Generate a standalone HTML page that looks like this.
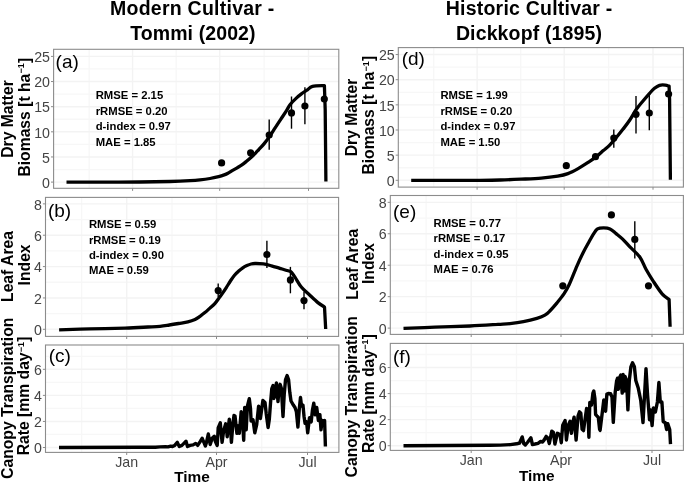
<!DOCTYPE html>
<html><head><meta charset="utf-8"><title>Figure</title><style>
html,body{margin:0;padding:0;background:#fff;}
svg{display:block;will-change:transform;}
text{font-family:"Liberation Sans",sans-serif;}
.tl{font-size:14.2px;fill:#444444;}
.pl{font-size:19px;fill:#000;}
.st{font-size:11.3px;font-weight:bold;fill:#000;}
.tt{font-size:19.5px;font-weight:bold;fill:#000;}
.yt{font-size:15.7px;font-weight:bold;fill:#000;}
.xt{font-size:15.4px;font-weight:bold;fill:#000;}
</style></head>
<body><svg width="685" height="484" viewBox="0 0 685 484">
<rect width="685" height="484" fill="#fff"/>
<line x1="53.6" y1="169.53" x2="338.8" y2="169.53" stroke="#f7f7f7" stroke-width="1.3"/>
<line x1="53.6" y1="144.39" x2="338.8" y2="144.39" stroke="#f7f7f7" stroke-width="1.3"/>
<line x1="53.6" y1="119.25" x2="338.8" y2="119.25" stroke="#f7f7f7" stroke-width="1.3"/>
<line x1="53.6" y1="94.11" x2="338.8" y2="94.11" stroke="#f7f7f7" stroke-width="1.3"/>
<line x1="53.6" y1="68.97" x2="338.8" y2="68.97" stroke="#f7f7f7" stroke-width="1.3"/>
<line x1="89.2" y1="49.3" x2="89.2" y2="188.3" stroke="#f7f7f7" stroke-width="1.3"/>
<line x1="176.2" y1="49.3" x2="176.2" y2="188.3" stroke="#f7f7f7" stroke-width="1.3"/>
<line x1="264.1" y1="49.3" x2="264.1" y2="188.3" stroke="#f7f7f7" stroke-width="1.3"/>
<line x1="53.6" y1="182.1" x2="338.8" y2="182.1" stroke="#f3f3f3" stroke-width="1.4"/>
<line x1="53.6" y1="156.96" x2="338.8" y2="156.96" stroke="#f3f3f3" stroke-width="1.4"/>
<line x1="53.6" y1="131.82" x2="338.8" y2="131.82" stroke="#f3f3f3" stroke-width="1.4"/>
<line x1="53.6" y1="106.68" x2="338.8" y2="106.68" stroke="#f3f3f3" stroke-width="1.4"/>
<line x1="53.6" y1="81.54" x2="338.8" y2="81.54" stroke="#f3f3f3" stroke-width="1.4"/>
<line x1="53.6" y1="56.4" x2="338.8" y2="56.4" stroke="#f3f3f3" stroke-width="1.4"/>
<line x1="132.6" y1="49.3" x2="132.6" y2="188.3" stroke="#f3f3f3" stroke-width="1.4"/>
<line x1="219.7" y1="49.3" x2="219.7" y2="188.3" stroke="#f3f3f3" stroke-width="1.4"/>
<line x1="308.5" y1="49.3" x2="308.5" y2="188.3" stroke="#f3f3f3" stroke-width="1.4"/>
<line x1="45.5" y1="313.62" x2="338.6" y2="313.62" stroke="#f7f7f7" stroke-width="1.3"/>
<line x1="45.5" y1="282.26" x2="338.6" y2="282.26" stroke="#f7f7f7" stroke-width="1.3"/>
<line x1="45.5" y1="250.9" x2="338.6" y2="250.9" stroke="#f7f7f7" stroke-width="1.3"/>
<line x1="45.5" y1="219.54" x2="338.6" y2="219.54" stroke="#f7f7f7" stroke-width="1.3"/>
<line x1="81.6" y1="197.4" x2="81.6" y2="336.4" stroke="#f7f7f7" stroke-width="1.3"/>
<line x1="172" y1="197.4" x2="172" y2="336.4" stroke="#f7f7f7" stroke-width="1.3"/>
<line x1="261.7" y1="197.4" x2="261.7" y2="336.4" stroke="#f7f7f7" stroke-width="1.3"/>
<line x1="45.5" y1="329.3" x2="338.6" y2="329.3" stroke="#f3f3f3" stroke-width="1.4"/>
<line x1="45.5" y1="297.94" x2="338.6" y2="297.94" stroke="#f3f3f3" stroke-width="1.4"/>
<line x1="45.5" y1="266.58" x2="338.6" y2="266.58" stroke="#f3f3f3" stroke-width="1.4"/>
<line x1="45.5" y1="235.22" x2="338.6" y2="235.22" stroke="#f3f3f3" stroke-width="1.4"/>
<line x1="45.5" y1="203.86" x2="338.6" y2="203.86" stroke="#f3f3f3" stroke-width="1.4"/>
<line x1="126.7" y1="197.4" x2="126.7" y2="336.4" stroke="#f3f3f3" stroke-width="1.4"/>
<line x1="216.5" y1="197.4" x2="216.5" y2="336.4" stroke="#f3f3f3" stroke-width="1.4"/>
<line x1="307.5" y1="197.4" x2="307.5" y2="336.4" stroke="#f3f3f3" stroke-width="1.4"/>
<line x1="45.5" y1="434.47" x2="338.9" y2="434.47" stroke="#f7f7f7" stroke-width="1.3"/>
<line x1="45.5" y1="408.41" x2="338.9" y2="408.41" stroke="#f7f7f7" stroke-width="1.3"/>
<line x1="45.5" y1="382.35" x2="338.9" y2="382.35" stroke="#f7f7f7" stroke-width="1.3"/>
<line x1="45.5" y1="356.29" x2="338.9" y2="356.29" stroke="#f7f7f7" stroke-width="1.3"/>
<line x1="81.6" y1="345" x2="81.6" y2="452.4" stroke="#f7f7f7" stroke-width="1.3"/>
<line x1="172" y1="345" x2="172" y2="452.4" stroke="#f7f7f7" stroke-width="1.3"/>
<line x1="261.7" y1="345" x2="261.7" y2="452.4" stroke="#f7f7f7" stroke-width="1.3"/>
<line x1="45.5" y1="447.5" x2="338.9" y2="447.5" stroke="#f3f3f3" stroke-width="1.4"/>
<line x1="45.5" y1="421.44" x2="338.9" y2="421.44" stroke="#f3f3f3" stroke-width="1.4"/>
<line x1="45.5" y1="395.38" x2="338.9" y2="395.38" stroke="#f3f3f3" stroke-width="1.4"/>
<line x1="45.5" y1="369.32" x2="338.9" y2="369.32" stroke="#f3f3f3" stroke-width="1.4"/>
<line x1="126.7" y1="345" x2="126.7" y2="452.4" stroke="#f3f3f3" stroke-width="1.4"/>
<line x1="216.5" y1="345" x2="216.5" y2="452.4" stroke="#f3f3f3" stroke-width="1.4"/>
<line x1="307.5" y1="345" x2="307.5" y2="452.4" stroke="#f3f3f3" stroke-width="1.4"/>
<line x1="398.3" y1="167.73" x2="683.4" y2="167.73" stroke="#f7f7f7" stroke-width="1.3"/>
<line x1="398.3" y1="142.58" x2="683.4" y2="142.58" stroke="#f7f7f7" stroke-width="1.3"/>
<line x1="398.3" y1="117.43" x2="683.4" y2="117.43" stroke="#f7f7f7" stroke-width="1.3"/>
<line x1="398.3" y1="92.28" x2="683.4" y2="92.28" stroke="#f7f7f7" stroke-width="1.3"/>
<line x1="398.3" y1="67.12" x2="683.4" y2="67.12" stroke="#f7f7f7" stroke-width="1.3"/>
<line x1="433.7" y1="47.6" x2="433.7" y2="187.1" stroke="#f7f7f7" stroke-width="1.3"/>
<line x1="520.7" y1="47.6" x2="520.7" y2="187.1" stroke="#f7f7f7" stroke-width="1.3"/>
<line x1="608.6" y1="47.6" x2="608.6" y2="187.1" stroke="#f7f7f7" stroke-width="1.3"/>
<line x1="398.3" y1="180.3" x2="683.4" y2="180.3" stroke="#f3f3f3" stroke-width="1.4"/>
<line x1="398.3" y1="155.15" x2="683.4" y2="155.15" stroke="#f3f3f3" stroke-width="1.4"/>
<line x1="398.3" y1="130" x2="683.4" y2="130" stroke="#f3f3f3" stroke-width="1.4"/>
<line x1="398.3" y1="104.85" x2="683.4" y2="104.85" stroke="#f3f3f3" stroke-width="1.4"/>
<line x1="398.3" y1="79.7" x2="683.4" y2="79.7" stroke="#f3f3f3" stroke-width="1.4"/>
<line x1="398.3" y1="54.55" x2="683.4" y2="54.55" stroke="#f3f3f3" stroke-width="1.4"/>
<line x1="477.1" y1="47.6" x2="477.1" y2="187.1" stroke="#f3f3f3" stroke-width="1.4"/>
<line x1="564.2" y1="47.6" x2="564.2" y2="187.1" stroke="#f3f3f3" stroke-width="1.4"/>
<line x1="653" y1="47.6" x2="653" y2="187.1" stroke="#f3f3f3" stroke-width="1.4"/>
<line x1="390.3" y1="312.38" x2="683.4" y2="312.38" stroke="#f7f7f7" stroke-width="1.3"/>
<line x1="390.3" y1="280.94" x2="683.4" y2="280.94" stroke="#f7f7f7" stroke-width="1.3"/>
<line x1="390.3" y1="249.5" x2="683.4" y2="249.5" stroke="#f7f7f7" stroke-width="1.3"/>
<line x1="390.3" y1="218.06" x2="683.4" y2="218.06" stroke="#f7f7f7" stroke-width="1.3"/>
<line x1="426.1" y1="195.5" x2="426.1" y2="334.4" stroke="#f7f7f7" stroke-width="1.3"/>
<line x1="516.5" y1="195.5" x2="516.5" y2="334.4" stroke="#f7f7f7" stroke-width="1.3"/>
<line x1="606.2" y1="195.5" x2="606.2" y2="334.4" stroke="#f7f7f7" stroke-width="1.3"/>
<line x1="390.3" y1="328.1" x2="683.4" y2="328.1" stroke="#f3f3f3" stroke-width="1.4"/>
<line x1="390.3" y1="296.66" x2="683.4" y2="296.66" stroke="#f3f3f3" stroke-width="1.4"/>
<line x1="390.3" y1="265.22" x2="683.4" y2="265.22" stroke="#f3f3f3" stroke-width="1.4"/>
<line x1="390.3" y1="233.78" x2="683.4" y2="233.78" stroke="#f3f3f3" stroke-width="1.4"/>
<line x1="390.3" y1="202.34" x2="683.4" y2="202.34" stroke="#f3f3f3" stroke-width="1.4"/>
<line x1="471.2" y1="195.5" x2="471.2" y2="334.4" stroke="#f3f3f3" stroke-width="1.4"/>
<line x1="561" y1="195.5" x2="561" y2="334.4" stroke="#f3f3f3" stroke-width="1.4"/>
<line x1="652" y1="195.5" x2="652" y2="334.4" stroke="#f3f3f3" stroke-width="1.4"/>
<line x1="390.3" y1="432.67" x2="683.4" y2="432.67" stroke="#f7f7f7" stroke-width="1.3"/>
<line x1="390.3" y1="406.61" x2="683.4" y2="406.61" stroke="#f7f7f7" stroke-width="1.3"/>
<line x1="390.3" y1="380.55" x2="683.4" y2="380.55" stroke="#f7f7f7" stroke-width="1.3"/>
<line x1="390.3" y1="354.49" x2="683.4" y2="354.49" stroke="#f7f7f7" stroke-width="1.3"/>
<line x1="426.1" y1="343.4" x2="426.1" y2="450.4" stroke="#f7f7f7" stroke-width="1.3"/>
<line x1="516.5" y1="343.4" x2="516.5" y2="450.4" stroke="#f7f7f7" stroke-width="1.3"/>
<line x1="606.2" y1="343.4" x2="606.2" y2="450.4" stroke="#f7f7f7" stroke-width="1.3"/>
<line x1="390.3" y1="445.7" x2="683.4" y2="445.7" stroke="#f3f3f3" stroke-width="1.4"/>
<line x1="390.3" y1="419.64" x2="683.4" y2="419.64" stroke="#f3f3f3" stroke-width="1.4"/>
<line x1="390.3" y1="393.58" x2="683.4" y2="393.58" stroke="#f3f3f3" stroke-width="1.4"/>
<line x1="390.3" y1="367.52" x2="683.4" y2="367.52" stroke="#f3f3f3" stroke-width="1.4"/>
<line x1="471.2" y1="343.4" x2="471.2" y2="450.4" stroke="#f3f3f3" stroke-width="1.4"/>
<line x1="561" y1="343.4" x2="561" y2="450.4" stroke="#f3f3f3" stroke-width="1.4"/>
<line x1="652" y1="343.4" x2="652" y2="450.4" stroke="#f3f3f3" stroke-width="1.4"/>
<path d="M66.5,182.2 C72.08,182.18 87.75,182.13 100,182.1 C112.25,182.07 128.33,182.1 140,182 C151.67,181.9 161.67,181.72 170,181.5 C178.33,181.28 185,180.97 190,180.7 C195,180.43 196.67,180.27 200,179.9 C203.33,179.53 206.9,179.05 210,178.5 C213.1,177.95 216.23,177.2 218.6,176.6 C220.97,176 222.65,175.45 224.2,174.9 C225.75,174.35 226.5,174.05 227.9,173.3 C229.3,172.55 231.05,171.32 232.6,170.4 C234.15,169.48 235.65,168.72 237.2,167.8 C238.75,166.88 240.35,165.98 241.9,164.9 C243.45,163.82 244.95,162.57 246.5,161.3 C248.05,160.03 249.65,158.72 251.2,157.3 C252.75,155.88 254.57,154.05 255.8,152.8 C257.03,151.55 257.2,151.33 258.6,149.8 C260,148.27 262.33,145.88 264.2,143.6 C266.07,141.32 267.95,138.77 269.8,136.1 C271.65,133.43 273.45,130.43 275.3,127.6 C277.15,124.77 279.03,121.93 280.9,119.1 C282.77,116.27 284.95,113.05 286.5,110.6 C288.05,108.15 288.65,106.4 290.2,104.4 C291.75,102.4 293.93,100.35 295.8,98.6 C297.67,96.85 299.55,95.3 301.4,93.9 C303.25,92.5 305.05,91.45 306.9,90.2 C308.75,88.95 309.58,87.17 312.5,86.4 C315.42,85.63 322.42,85.73 324.4,85.6 L325.2,110 L325.9,181.5" fill="none" stroke="#000" stroke-width="3.3" stroke-linejoin="round" stroke-linecap="butt"/>
<circle cx="221.6" cy="162.9" r="3.6" fill="#000"/>
<circle cx="250.6" cy="152.8" r="3.6" fill="#000"/>
<line x1="269.2" y1="119.6" x2="269.2" y2="149.7" stroke="#000" stroke-width="1.4"/>
<circle cx="269.2" cy="135" r="3.6" fill="#000"/>
<line x1="291.5" y1="96.5" x2="291.5" y2="128.7" stroke="#000" stroke-width="1.4"/>
<circle cx="291.5" cy="112.9" r="3.6" fill="#000"/>
<line x1="304.9" y1="87.3" x2="304.9" y2="124.3" stroke="#000" stroke-width="1.4"/>
<circle cx="304.9" cy="106" r="3.6" fill="#000"/>
<circle cx="324.3" cy="99" r="3.6" fill="#000"/>
<path d="M59.1,329.8 C64.25,329.65 79.02,329.18 90,328.9 C100.98,328.62 115.33,328.42 125,328.1 C134.67,327.78 142.17,327.3 148,327 C153.83,326.7 156.45,326.63 160,326.3 C163.55,325.97 166.2,325.47 169.3,325 C172.4,324.53 175.5,324.02 178.6,323.5 C181.7,322.98 185.17,322.57 187.9,321.9 C190.63,321.23 192.98,320.43 195,319.5 C197.02,318.57 198.35,317.45 200,316.3 C201.65,315.15 203.25,313.97 204.9,312.6 C206.55,311.23 208.25,309.6 209.9,308.1 C211.55,306.6 213.28,305.28 214.8,303.6 C216.32,301.92 217.78,299.63 219,298 C220.22,296.37 220.88,295.53 222.1,293.8 C223.32,292.07 224.92,289.73 226.3,287.6 C227.68,285.47 229.03,283.07 230.4,281 C231.77,278.93 233.12,276.85 234.5,275.2 C235.88,273.55 237.32,272.33 238.7,271.1 C240.08,269.87 241.43,268.72 242.8,267.8 C244.17,266.88 245.52,266.23 246.9,265.6 C248.28,264.97 249.75,264.35 251.1,264 C252.45,263.65 252.97,263.52 255,263.5 C257.03,263.48 260.55,263.52 263.3,263.9 C266.05,264.28 268.75,265.07 271.5,265.8 C274.25,266.53 277.03,267.47 279.8,268.3 C282.57,269.13 286.27,270.22 288.1,270.8 C289.93,271.38 289.63,270.7 290.8,271.8 C291.97,272.9 293.35,274.87 295.1,277.4 C296.85,279.93 298.88,284.07 301.3,287 C303.72,289.93 306.83,292.4 309.6,295 C312.37,297.6 315.42,300.6 317.9,302.6 C320.38,304.6 323.4,306.27 324.5,307 L325.7,329" fill="none" stroke="#000" stroke-width="3.3" stroke-linejoin="round" stroke-linecap="butt"/>
<line x1="218.2" y1="283.4" x2="218.2" y2="297" stroke="#000" stroke-width="1.4"/>
<circle cx="218.2" cy="290.6" r="3.6" fill="#000"/>
<line x1="266.9" y1="240.8" x2="266.9" y2="268.1" stroke="#000" stroke-width="1.4"/>
<circle cx="266.9" cy="254.5" r="3.6" fill="#000"/>
<line x1="290.4" y1="266.9" x2="290.4" y2="293.3" stroke="#000" stroke-width="1.4"/>
<circle cx="290.4" cy="279.9" r="3.6" fill="#000"/>
<line x1="304" y1="291.7" x2="304" y2="309.2" stroke="#000" stroke-width="1.4"/>
<circle cx="304" cy="300.6" r="3.6" fill="#000"/>
<polyline points="59,447.5 140,447.3 155.3,447.2 160,446.9 165.5,446.6 168,446.9 170.7,446.1 172.5,446.6 174.7,445.4 177.3,442.4 179.3,446.5 181.9,445.4 183.9,443.4 186,441.3 187.5,446.5 190.1,445.4 193.1,444.9 195.7,443.4 197.7,445.4 200.3,441.3 202.1,438.3 203.9,442.4 205.4,446 206.3,443 208.3,434 210.2,444.5 212.2,438.3 214.3,436.2 215.3,441.4 217.2,445.5 218.2,427.9 220.3,422.8 221,431 222.1,442.4 223.6,431 225.7,423.8 226.7,431 227.2,436.7 229.3,419.1 230.7,431 231.4,442.4 232.9,423.8 234,415.5 235,416 236.9,433.4 238.1,426 239.3,433.4 241.2,411.7 242.4,418.5 243.7,440.2 244.7,407.4 246.2,429.7 247.4,406.1 249.3,398.7 250.5,408.6 251.1,421 253,419.8 254.8,432.8 256.7,424.7 258.6,406.1 260.4,418.5 262.9,400.5 265,402.4 266.2,413.4 268.1,427.6 269.3,419.6 270.6,402.2 271.8,388.6 273.1,385.5 273.9,398.5 275.2,394.8 276.4,383 277.4,394.8 278,401.6 278.9,389.8 280.1,384.3 281.4,388.6 283,416.5 284.2,394.8 285.5,379.9 287.1,375.6 288.6,379.9 289.8,392.3 291,401 293.5,405.3 295,407.5 296.4,411.8 297.9,427 299.3,408.9 300.5,397.4 301.5,406 303,405.3 304,416.2 305.1,423.4 306.6,421.9 307.7,432.8 309.5,417.6 311.2,421.9 312.4,410.4 313.8,403.1 315.2,414.7 316.7,407.5 318.4,420.5 319.9,414.7 321,429.9 322.2,420.5 323.2,423.4 324.6,420.5 325.4,446.5" fill="none" stroke="#000" stroke-width="3.4" stroke-linejoin="round" stroke-linecap="butt"/>
<path d="M411.2,180.4 C417.67,180.4 438.53,180.42 450,180.4 C461.47,180.38 471.6,180.37 480,180.3 C488.4,180.23 493.58,180.18 500.4,180 C507.22,179.82 514.08,179.52 520.9,179.2 C527.72,178.88 535.17,178.62 541.3,178.1 C547.43,177.58 553.27,176.85 557.7,176.1 C562.13,175.35 564.5,174.85 567.9,173.6 C571.3,172.35 574.7,170.5 578.1,168.6 C581.5,166.7 585.23,164.2 588.3,162.2 C591.37,160.2 594,158.53 596.5,156.6 C599,154.67 601.07,152.57 603.3,150.6 C605.53,148.63 607.7,147.02 609.9,144.8 C612.1,142.58 614.3,139.92 616.5,137.3 C618.7,134.68 620.88,131.98 623.1,129.1 C625.32,126.22 627.58,123.3 629.8,120 C632.02,116.7 634.2,112.47 636.4,109.3 C638.6,106.13 640.8,103.67 643,101 C645.2,98.33 647.68,95.42 649.6,93.3 C651.52,91.18 652.85,89.63 654.5,88.3 C656.15,86.97 657.7,85.83 659.5,85.3 C661.3,84.77 663.7,84.95 665.3,85.1 C666.9,85.25 668.47,86.02 669.1,86.2 L669.6,100 L670.4,179.7" fill="none" stroke="#000" stroke-width="3.3" stroke-linejoin="round" stroke-linecap="butt"/>
<circle cx="566.3" cy="165.7" r="3.6" fill="#000"/>
<circle cx="595.5" cy="156.7" r="3.6" fill="#000"/>
<line x1="613.8" y1="129.5" x2="613.8" y2="147.7" stroke="#000" stroke-width="1.4"/>
<circle cx="613.8" cy="138.1" r="3.6" fill="#000"/>
<line x1="636" y1="96.1" x2="636" y2="133.6" stroke="#000" stroke-width="1.4"/>
<circle cx="636" cy="114.3" r="3.6" fill="#000"/>
<line x1="649.3" y1="94.8" x2="649.3" y2="130.3" stroke="#000" stroke-width="1.4"/>
<circle cx="649.3" cy="113" r="3.6" fill="#000"/>
<circle cx="668.6" cy="94" r="3.6" fill="#000"/>
<path d="M403.5,328.4 C408.75,328.2 423.92,327.6 435,327.2 C446.08,326.8 459.5,326.47 470,326 C480.5,325.53 491.33,324.8 498,324.4 C504.67,324 505.77,324.05 510,323.6 C514.23,323.15 518.92,322.57 523.4,321.7 C527.88,320.83 533.32,319.48 536.9,318.4 C540.48,317.32 542.67,316.52 544.9,315.2 C547.13,313.88 548.28,312.55 550.3,310.5 C552.32,308.45 554.77,305.62 557,302.9 C559.23,300.18 561.68,297.22 563.7,294.2 C565.72,291.18 566.9,289.48 569.1,284.8 C571.3,280.12 574.57,271.45 576.9,266.1 C579.23,260.75 581.03,256.83 583.1,252.7 C585.17,248.57 587.58,244.4 589.3,241.3 C591.02,238.2 592.03,236.17 593.4,234.1 C594.77,232.03 595.78,229.93 597.5,228.9 C599.22,227.87 601.62,227.9 603.7,227.9 C605.78,227.9 607.93,227.95 610,228.9 C612.07,229.85 614.03,231.93 616.1,233.6 C618.17,235.27 620.1,236.68 622.4,238.9 C624.7,241.12 627,243.88 629.9,246.9 C632.8,249.92 637.12,253.27 639.8,257 C642.48,260.73 643.72,265.2 646,269.3 C648.28,273.4 650.82,277.52 653.5,281.6 C656.18,285.68 659.5,290.82 662.1,293.8 C664.7,296.78 667.93,298.55 669.1,299.5 L670.1,326.8" fill="none" stroke="#000" stroke-width="3.3" stroke-linejoin="round" stroke-linecap="butt"/>
<circle cx="562.8" cy="285.8" r="3.6" fill="#000"/>
<circle cx="611.4" cy="214.9" r="3.6" fill="#000"/>
<line x1="634.8" y1="221.2" x2="634.8" y2="258.5" stroke="#000" stroke-width="1.4"/>
<circle cx="634.8" cy="239.4" r="3.6" fill="#000"/>
<circle cx="648.5" cy="285.8" r="3.6" fill="#000"/>
<polyline points="403.5,445.7 490,445.3 500.2,445.1 510.4,444.6 516.6,443.8 519.6,443 522.2,436.9 523.7,443.5 525.3,445 527.8,442 530.9,437.9 532.4,444.5 535,444 538,443.3 540.6,441.5 542.6,442 544.2,439.9 546.2,436.4 547.7,437.9 549.3,443.5 551.8,431.2 553.4,432.3 554.9,444 557.4,433.3 560,434.8 561.3,442.7 562.7,425.3 565.1,420.6 566.4,440 568.3,425.3 570.1,421.2 571.4,433.3 572.8,422.6 574.1,417.2 576.1,440 578.1,415.9 579.5,411.8 580.8,413.2 582.1,429.3 583.5,430.6 584.8,421.2 586.6,408.5 588.2,418.6 588.9,437.3 589.8,402.4 591.5,405.1 592.9,393.1 593.8,391 594.9,398.4 595.6,414.5 596.9,415.9 598.3,417.2 599.6,429.3 600.1,430.4 603.8,400 605.6,411.2 606.9,394 608.2,393.5 610.6,393.8 612,397 613.3,422.4 615.2,392.1 616.6,381 617.5,378.2 618.3,389.4 619.5,378 620.8,375 622.2,393.1 623.1,374.5 624.2,391 625,376.5 626.6,380.5 627.9,409.9 629.3,380.5 630.9,366.8 632.5,362.8 634.4,366.8 635.8,380.5 638.3,388.3 640.7,400.1 643,422.6 644.6,394.2 646,368.7 647.5,394.2 649.5,419.7 650.5,409.9 652.1,425.6 653.4,407.9 655.4,411.9 657.4,402 658.9,382.5 660.3,402 661.9,402 663.2,421.7 665.2,422.6 666.6,429.5 667.7,423.6 669.7,429.5 670.5,444.2" fill="none" stroke="#000" stroke-width="3.4" stroke-linejoin="round" stroke-linecap="butt"/>
<rect x="53.6" y="49.3" width="285.2" height="139" fill="none" stroke="#8c8c8c" stroke-width="1.1"/>
<line x1="51" y1="182.1" x2="53.6" y2="182.1" stroke="#8c8c8c" stroke-width="1"/>
<text x="50" y="187.8" class="tl" text-anchor="end">0</text>
<line x1="51" y1="156.96" x2="53.6" y2="156.96" stroke="#8c8c8c" stroke-width="1"/>
<text x="50" y="162.66" class="tl" text-anchor="end">5</text>
<line x1="51" y1="131.82" x2="53.6" y2="131.82" stroke="#8c8c8c" stroke-width="1"/>
<text x="50" y="137.52" class="tl" text-anchor="end">10</text>
<line x1="51" y1="106.68" x2="53.6" y2="106.68" stroke="#8c8c8c" stroke-width="1"/>
<text x="50" y="112.38" class="tl" text-anchor="end">15</text>
<line x1="51" y1="81.54" x2="53.6" y2="81.54" stroke="#8c8c8c" stroke-width="1"/>
<text x="50" y="87.24" class="tl" text-anchor="end">20</text>
<line x1="51" y1="56.4" x2="53.6" y2="56.4" stroke="#8c8c8c" stroke-width="1"/>
<text x="50" y="62.1" class="tl" text-anchor="end">25</text>
<line x1="132.6" y1="188.3" x2="132.6" y2="190.9" stroke="#8c8c8c" stroke-width="1"/>
<line x1="219.7" y1="188.3" x2="219.7" y2="190.9" stroke="#8c8c8c" stroke-width="1"/>
<line x1="308.5" y1="188.3" x2="308.5" y2="190.9" stroke="#8c8c8c" stroke-width="1"/>
<text x="55.6" y="67.5" class="pl">(a)</text>
<rect x="45.5" y="197.4" width="293.1" height="139" fill="none" stroke="#8c8c8c" stroke-width="1.1"/>
<line x1="42.9" y1="329.3" x2="45.5" y2="329.3" stroke="#8c8c8c" stroke-width="1"/>
<text x="41.9" y="335" class="tl" text-anchor="end">0</text>
<line x1="42.9" y1="297.94" x2="45.5" y2="297.94" stroke="#8c8c8c" stroke-width="1"/>
<text x="41.9" y="303.64" class="tl" text-anchor="end">2</text>
<line x1="42.9" y1="266.58" x2="45.5" y2="266.58" stroke="#8c8c8c" stroke-width="1"/>
<text x="41.9" y="272.28" class="tl" text-anchor="end">4</text>
<line x1="42.9" y1="235.22" x2="45.5" y2="235.22" stroke="#8c8c8c" stroke-width="1"/>
<text x="41.9" y="240.92" class="tl" text-anchor="end">6</text>
<line x1="42.9" y1="203.86" x2="45.5" y2="203.86" stroke="#8c8c8c" stroke-width="1"/>
<text x="41.9" y="209.56" class="tl" text-anchor="end">8</text>
<line x1="126.7" y1="336.4" x2="126.7" y2="339" stroke="#8c8c8c" stroke-width="1"/>
<line x1="216.5" y1="336.4" x2="216.5" y2="339" stroke="#8c8c8c" stroke-width="1"/>
<line x1="307.5" y1="336.4" x2="307.5" y2="339" stroke="#8c8c8c" stroke-width="1"/>
<text x="47.9" y="216.7" class="pl">(b)</text>
<rect x="45.5" y="345" width="293.4" height="107.4" fill="none" stroke="#8c8c8c" stroke-width="1.1"/>
<line x1="42.9" y1="447.5" x2="45.5" y2="447.5" stroke="#8c8c8c" stroke-width="1"/>
<text x="41.9" y="453.2" class="tl" text-anchor="end">0</text>
<line x1="42.9" y1="421.44" x2="45.5" y2="421.44" stroke="#8c8c8c" stroke-width="1"/>
<text x="41.9" y="427.14" class="tl" text-anchor="end">2</text>
<line x1="42.9" y1="395.38" x2="45.5" y2="395.38" stroke="#8c8c8c" stroke-width="1"/>
<text x="41.9" y="401.08" class="tl" text-anchor="end">4</text>
<line x1="42.9" y1="369.32" x2="45.5" y2="369.32" stroke="#8c8c8c" stroke-width="1"/>
<text x="41.9" y="375.02" class="tl" text-anchor="end">6</text>
<line x1="126.7" y1="452.4" x2="126.7" y2="455" stroke="#8c8c8c" stroke-width="1"/>
<line x1="216.5" y1="452.4" x2="216.5" y2="455" stroke="#8c8c8c" stroke-width="1"/>
<line x1="307.5" y1="452.4" x2="307.5" y2="455" stroke="#8c8c8c" stroke-width="1"/>
<text x="126.7" y="467" class="tl" text-anchor="middle">Jan</text>
<text x="216.5" y="467" class="tl" text-anchor="middle">Apr</text>
<text x="307.5" y="467" class="tl" text-anchor="middle">Jul</text>
<text x="48.7" y="361.9" class="pl">(c)</text>
<rect x="398.3" y="47.6" width="285.1" height="139.5" fill="none" stroke="#8c8c8c" stroke-width="1.1"/>
<line x1="395.7" y1="180.3" x2="398.3" y2="180.3" stroke="#8c8c8c" stroke-width="1"/>
<text x="394.7" y="186" class="tl" text-anchor="end">0</text>
<line x1="395.7" y1="155.15" x2="398.3" y2="155.15" stroke="#8c8c8c" stroke-width="1"/>
<text x="394.7" y="160.85" class="tl" text-anchor="end">5</text>
<line x1="395.7" y1="130" x2="398.3" y2="130" stroke="#8c8c8c" stroke-width="1"/>
<text x="394.7" y="135.7" class="tl" text-anchor="end">10</text>
<line x1="395.7" y1="104.85" x2="398.3" y2="104.85" stroke="#8c8c8c" stroke-width="1"/>
<text x="394.7" y="110.55" class="tl" text-anchor="end">15</text>
<line x1="395.7" y1="79.7" x2="398.3" y2="79.7" stroke="#8c8c8c" stroke-width="1"/>
<text x="394.7" y="85.4" class="tl" text-anchor="end">20</text>
<line x1="395.7" y1="54.55" x2="398.3" y2="54.55" stroke="#8c8c8c" stroke-width="1"/>
<text x="394.7" y="60.25" class="tl" text-anchor="end">25</text>
<line x1="477.1" y1="187.1" x2="477.1" y2="189.7" stroke="#8c8c8c" stroke-width="1"/>
<line x1="564.2" y1="187.1" x2="564.2" y2="189.7" stroke="#8c8c8c" stroke-width="1"/>
<line x1="653" y1="187.1" x2="653" y2="189.7" stroke="#8c8c8c" stroke-width="1"/>
<text x="401.7" y="65.4" class="pl">(d)</text>
<rect x="390.3" y="195.5" width="293.1" height="138.9" fill="none" stroke="#8c8c8c" stroke-width="1.1"/>
<line x1="387.7" y1="328.1" x2="390.3" y2="328.1" stroke="#8c8c8c" stroke-width="1"/>
<text x="386.7" y="333.8" class="tl" text-anchor="end">0</text>
<line x1="387.7" y1="296.66" x2="390.3" y2="296.66" stroke="#8c8c8c" stroke-width="1"/>
<text x="386.7" y="302.36" class="tl" text-anchor="end">2</text>
<line x1="387.7" y1="265.22" x2="390.3" y2="265.22" stroke="#8c8c8c" stroke-width="1"/>
<text x="386.7" y="270.92" class="tl" text-anchor="end">4</text>
<line x1="387.7" y1="233.78" x2="390.3" y2="233.78" stroke="#8c8c8c" stroke-width="1"/>
<text x="386.7" y="239.48" class="tl" text-anchor="end">6</text>
<line x1="387.7" y1="202.34" x2="390.3" y2="202.34" stroke="#8c8c8c" stroke-width="1"/>
<text x="386.7" y="208.04" class="tl" text-anchor="end">8</text>
<line x1="471.2" y1="334.4" x2="471.2" y2="337" stroke="#8c8c8c" stroke-width="1"/>
<line x1="561" y1="334.4" x2="561" y2="337" stroke="#8c8c8c" stroke-width="1"/>
<line x1="652" y1="334.4" x2="652" y2="337" stroke="#8c8c8c" stroke-width="1"/>
<text x="393" y="217.7" class="pl">(e)</text>
<rect x="390.3" y="343.4" width="293.1" height="107" fill="none" stroke="#8c8c8c" stroke-width="1.1"/>
<line x1="387.7" y1="445.7" x2="390.3" y2="445.7" stroke="#8c8c8c" stroke-width="1"/>
<text x="386.7" y="451.4" class="tl" text-anchor="end">0</text>
<line x1="387.7" y1="419.64" x2="390.3" y2="419.64" stroke="#8c8c8c" stroke-width="1"/>
<text x="386.7" y="425.34" class="tl" text-anchor="end">2</text>
<line x1="387.7" y1="393.58" x2="390.3" y2="393.58" stroke="#8c8c8c" stroke-width="1"/>
<text x="386.7" y="399.28" class="tl" text-anchor="end">4</text>
<line x1="387.7" y1="367.52" x2="390.3" y2="367.52" stroke="#8c8c8c" stroke-width="1"/>
<text x="386.7" y="373.22" class="tl" text-anchor="end">6</text>
<line x1="471.2" y1="450.4" x2="471.2" y2="453" stroke="#8c8c8c" stroke-width="1"/>
<line x1="561" y1="450.4" x2="561" y2="453" stroke="#8c8c8c" stroke-width="1"/>
<line x1="652" y1="450.4" x2="652" y2="453" stroke="#8c8c8c" stroke-width="1"/>
<text x="471.2" y="465" class="tl" text-anchor="middle">Jan</text>
<text x="561" y="465" class="tl" text-anchor="middle">Apr</text>
<text x="652" y="465" class="tl" text-anchor="middle">Jul</text>
<text x="393" y="362.6" class="pl">(f)</text>
<text x="95.7" y="99.3" class="st">RMSE = 2.15</text>
<text x="95.7" y="114.75" class="st">rRMSE = 0.20</text>
<text x="95.7" y="130.2" class="st">d-index = 0.97</text>
<text x="95.7" y="145.65" class="st">MAE = 1.85</text>
<text x="88.9" y="228.1" class="st">RMSE = 0.59</text>
<text x="88.9" y="243.55" class="st">rRMSE = 0.19</text>
<text x="88.9" y="259" class="st">d-index = 0.90</text>
<text x="88.9" y="274.45" class="st">MAE = 0.59</text>
<text x="440.4" y="99.3" class="st">RMSE = 1.99</text>
<text x="440.4" y="114.75" class="st">rRMSE = 0.20</text>
<text x="440.4" y="130.2" class="st">d-index = 0.97</text>
<text x="440.4" y="145.65" class="st">MAE = 1.50</text>
<text x="433.5" y="226.7" class="st">RMSE = 0.77</text>
<text x="433.5" y="242.15" class="st">rRMSE = 0.17</text>
<text x="433.5" y="257.6" class="st">d-index = 0.95</text>
<text x="433.5" y="273.05" class="st">MAE = 0.76</text>
<text x="192.3" y="15" class="tt" text-anchor="middle" letter-spacing="0.25">Modern Cultivar -</text>
<text x="192.9" y="39.7" class="tt" text-anchor="middle" letter-spacing="0.1">Tommi (2002)</text>
<text x="529.1" y="15" class="tt" text-anchor="middle" letter-spacing="0.22">Historic Cultivar -</text>
<text x="529" y="39.7" class="tt" text-anchor="middle" letter-spacing="0.14">Dickkopf (1895)</text>
<text class="yt" transform="translate(12.7,119) rotate(-90)" text-anchor="middle">Dry Matter</text>
<text class="yt" transform="translate(29.5,117.2) rotate(-90)" text-anchor="middle">Biomass [t ha<tspan font-size="9" dy="-5.4" dx="0.2">−1</tspan><tspan dy="5.4" dx="0.2">]</tspan></text>
<text class="yt" transform="translate(12.9,266.5) rotate(-90)" text-anchor="middle">Leaf Area</text>
<text class="yt" transform="translate(29.8,264.9) rotate(-90)" text-anchor="middle">Index</text>
<text class="yt" transform="translate(12.8,398.3) rotate(-90)" text-anchor="middle">Canopy Transpiration</text>
<text class="yt" transform="translate(29.2,395.9) rotate(-90)" text-anchor="middle">Rate [mm day<tspan font-size="9" dy="-5.4" dx="0.2">−1</tspan><tspan dy="5.4" dx="0.2">]</tspan></text>
<text class="yt" transform="translate(357.3,117.5) rotate(-90)" text-anchor="middle">Dry Matter</text>
<text class="yt" transform="translate(374.1,115.2) rotate(-90)" text-anchor="middle">Biomass [t ha<tspan font-size="9" dy="-5.4" dx="0.2">−1</tspan><tspan dy="5.4" dx="0.2">]</tspan></text>
<text class="yt" transform="translate(357.5,264.3) rotate(-90)" text-anchor="middle">Leaf Area</text>
<text class="yt" transform="translate(374.4,263.5) rotate(-90)" text-anchor="middle">Index</text>
<text class="yt" transform="translate(357.4,396.8) rotate(-90)" text-anchor="middle">Canopy Transpiration</text>
<text class="yt" transform="translate(373.8,393.5) rotate(-90)" text-anchor="middle">Rate [mm day<tspan font-size="9" dy="-5.4" dx="0.2">−1</tspan><tspan dy="5.4" dx="0.2">]</tspan></text>
<text x="192" y="482.1" class="xt" text-anchor="middle">Time</text>
<text x="536.8" y="480.5" class="xt" text-anchor="middle">Time</text>
</svg></body></html>
